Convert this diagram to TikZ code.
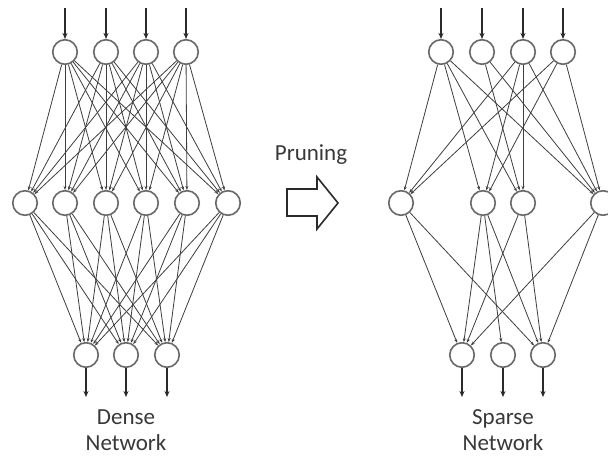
\documentclass[tikz,border=0pt]{standalone}
\usepackage{fontspec}
\setmainfont{Carlito}
\usetikzlibrary{arrows.meta}
\definecolor{nodegray}{HTML}{686868}
\definecolor{linkgray}{HTML}{3E3E3E}
\definecolor{iogray}{HTML}{2A2A2A}
\definecolor{textgray}{HTML}{383838}
\begin{document}
\begin{tikzpicture}[x=1pt,y=-1pt,
  neuron/.style={circle, draw=nodegray, line width=1.6pt, minimum size=24.5pt, inner sep=0pt},
  link/.style={draw=linkgray, line width=0.8pt, -{Stealth[length=4pt,width=3pt]}},
  io/.style={draw=iogray, line width=1.8pt, -{Stealth[length=6pt,width=5pt]}},
  caption/.style={font=\fontsize{23}{26}\selectfont, text=textgray, align=center},
  blockarrow/.style={draw=iogray, line width=1.6pt, line join=miter, fill=white}]
\useasboundingbox (0,0) rectangle (608,457);
\fill[white] (0,0) rectangle (608,457);

% ---------- dense network ----------
\foreach \x [count=\i] in {65,106,146,186} {
  \node[neuron] (dt\i) at (\x,52) {};
  \coordinate (din\i) at (\x,8);
}
\foreach \x [count=\i] in {25,65,106,146,187,228}
  \node[neuron] (dm\i) at (\x,203) {};
\foreach \x [count=\i] in {86,126,167} {
  \node[neuron] (db\i) at (\x,355) {};
  \coordinate (dout\i) at (\x,397);
}
\foreach \i in {1,...,4} \draw[io] (din\i) -- (dt\i);
\foreach \i in {1,...,3} \draw[io] (db\i) -- (dout\i);
\foreach \i in {1,...,4}
  \foreach \j in {1,...,6}
    \draw[link] (dt\i) -- (dm\j);
\foreach \i in {1,...,6}
  \foreach \j in {1,...,3}
    \draw[link] (dm\i) -- (db\j);
\node[caption] (dlabel) at (126,430) {Dense\\Network};

% ---------- pruning step ----------
\node[caption] (plabel) at (311,155) {Pruning};
\draw[blockarrow] (287,189) -- (317,189) -- (317,177) -- (338,203)
  -- (317,229) -- (317,216) -- (287,216) -- cycle;

% ---------- sparse network ----------
\foreach \x [count=\i] in {441,482,523,563} {
  \node[neuron] (st\i) at (\x,52) {};
  \coordinate (sin\i) at (\x,8);
}
\foreach \x [count=\i] in {401,483,523,603}
  \node[neuron] (sm\i) at (\x,203) {};
\foreach \x [count=\i] in {462,503,543} {
  \node[neuron] (sb\i) at (\x,355) {};
  \coordinate (sout\i) at (\x,397);
}
\foreach \i in {1,...,4} \draw[io] (sin\i) -- (st\i);
\foreach \i in {1,...,3} \draw[io] (sb\i) -- (sout\i);
% remaining input-to-hidden weights
\foreach \a/\b in {1/1,1/2,1/3,1/4, 2/3,2/4, 3/1,3/2,3/3,3/4, 4/1,4/2,4/4}
  \draw[link] (st\a) -- (sm\b);
% remaining hidden-to-output weights
\foreach \a/\b in {1/1,1/3, 2/1,2/2,2/3, 3/1,3/3, 4/1,4/3}
  \draw[link] (sm\a) -- (sb\b);
\node[caption] (slabel) at (503,430) {Sparse\\Network};
\end{tikzpicture}
\end{document}
